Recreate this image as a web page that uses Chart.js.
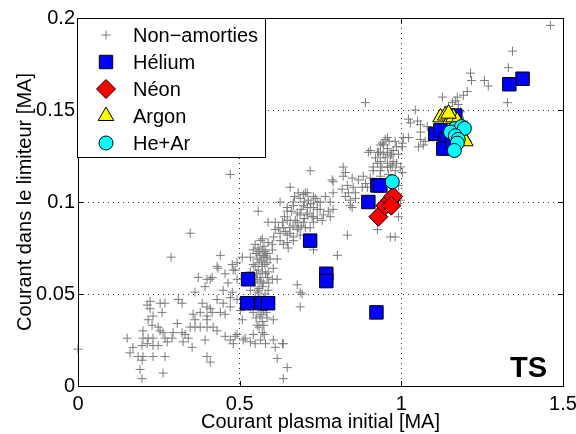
<!DOCTYPE html>
<html>
<head>
<meta charset="utf-8">
<script src="https://cdn.jsdelivr.net/npm/chart.js@4.4.1/dist/chart.umd.min.js"></script>
<style>
  html, body { margin: 0; padding: 0; background: #fff; }
  canvas { display: block; }
</style>
</head>
<body>
<canvas id="chart" width="576" height="434"></canvas>
<script>
const xTicks = [0, 0.5, 1, 1.5];
const yTicks = [0, 0.05, 0.1, 0.15, 0.2];
const seriesNames = ['Non\u2212amorties', 'Hélium', 'Néon', 'Argon', 'He+Ar'];
const xTitle = 'Courant plasma initial [MA]';
const yTitle = 'Courant dans le limiteur [MA]';
const panelLabel = 'TS';

// [courant plasma initial, courant limiteur] en MA
const nonAmorties = [
  [0.288,0.070],[0.440,0.071],[0.430,0.065],[0.455,0.061],[0.486,0.063],[0.372,0.059],[0.399,0.058],[0.415,0.059],
  [0.464,0.056],[0.492,0.058],[0.393,0.054],[0.449,0.052],[0.477,0.051],[0.362,0.051],[0.223,0.046],[0.254,0.045],
  [0.269,0.045],[0.310,0.047],[0.322,0.045],[0.384,0.045],[0.430,0.047],[0.449,0.045],[0.223,0.042],[0.260,0.040],
  [0.409,0.042],[0.455,0.039],[0.232,0.038],[0.356,0.039],[0.378,0.040],[0.415,0.040],[0.362,0.036],[0.217,0.036],
  [0.229,0.033],[0.248,0.032],[0.307,0.034],[0.399,0.036],[0.347,0.032],[0.362,0.032],[0.378,0.032],[0.399,0.032],
  [0.418,0.032],[0.430,0.030],[0.201,0.030],[0.254,0.030],[0.263,0.029],[0.294,0.029],[0.322,0.029],[0.331,0.028],
  [0.201,0.026],[0.217,0.026],[0.232,0.026],[0.269,0.026],[0.291,0.026],[0.325,0.024],[0.341,0.026],[0.393,0.025],
  [0.455,0.027],[0.471,0.025],[0.486,0.027],[0.152,0.026],[0.170,0.021],[0.198,0.022],[0.214,0.023],[0.232,0.022],
  [0.248,0.022],[0.276,0.024],[0.353,0.021],[0.161,0.018],[0.186,0.016],[0.201,0.016],[0.232,0.016],[0.269,0.016],
  [0.198,0.014],[0.399,0.016],[0.409,0.013],[0.192,0.009],[0.263,0.007],[0.198,0.004],[0.000,0.020],[0.347,0.083],
  [0.471,0.115],[0.214,0.044],
  [0.656,0.108],[0.681,0.105],[0.709,0.105],[0.728,0.103],[0.687,0.102],[0.625,0.100],[0.666,0.098],[0.697,0.098],
  [0.718,0.097],[0.740,0.100],[0.740,0.096],[0.647,0.095],[0.678,0.094],[0.709,0.094],[0.728,0.092],[0.557,0.095],
  [0.588,0.089],[0.610,0.089],[0.632,0.089],[0.656,0.090],[0.678,0.089],[0.697,0.089],[0.610,0.085],[0.625,0.083],
  [0.641,0.084],[0.656,0.083],[0.678,0.085],[0.687,0.082],[0.625,0.079],[0.647,0.078],[0.666,0.079],[0.635,0.077],
  [0.650,0.075],[0.570,0.080],[0.601,0.077],[0.579,0.073],[0.563,0.071],[0.542,0.074],[0.533,0.070],[0.554,0.069],
  [0.573,0.070],[0.585,0.067],[0.594,0.069],[0.616,0.069],[0.604,0.064],[0.548,0.065],[0.557,0.063],[0.570,0.062],
  [0.542,0.060],[0.563,0.059],[0.585,0.059],[0.601,0.058],[0.616,0.058],[0.508,0.070],[0.492,0.067],[0.477,0.066],
  [0.433,0.064],[0.480,0.063],[0.548,0.056],[0.570,0.054],[0.554,0.052],[0.678,0.055],[0.687,0.051],[0.687,0.043],
  [0.533,0.043],[0.542,0.040],[0.563,0.038],[0.471,0.048],[0.492,0.047],[0.440,0.040],[0.471,0.043],[0.502,0.041],
  [0.399,0.043],[0.399,0.038],[0.409,0.058],
  [0.573,0.041],[0.585,0.037],[0.604,0.036],[0.508,0.036],[0.554,0.033],[0.570,0.029],[0.542,0.028],[0.511,0.025],
  [0.533,0.024],[0.548,0.023],[0.492,0.028],[0.480,0.023],[0.604,0.025],[0.632,0.023],[0.610,0.021],[0.616,0.015],
  [0.647,0.010],[0.635,0.004],[0.517,0.026],[0.563,0.046],[0.548,0.048],
  [0.548,0.077],[0.557,0.075],[0.570,0.074],[0.551,0.072],[0.576,0.071],[0.560,0.067],[0.542,0.066],[0.570,0.065],
  [0.554,0.058],[0.573,0.056],[0.557,0.051],[0.579,0.050],[0.563,0.048],[0.545,0.046],[0.557,0.042],[0.551,0.037],
  [0.570,0.035],[0.560,0.032],[0.576,0.028],[0.588,0.078],[0.601,0.074],[0.582,0.070],[0.533,0.062],[0.588,0.062],
  [0.533,0.052],[0.588,0.052],
  [0.565,0.079],[0.575,0.076],[0.560,0.073],[0.585,0.072],[0.568,0.068],[0.578,0.066],[0.552,0.061],[0.580,0.061],
  [0.566,0.057],[0.590,0.056],[0.560,0.053],[0.575,0.047],[0.568,0.043],[0.582,0.040],[0.566,0.039],[0.575,0.033],
  [0.565,0.025],[0.580,0.023],
  [0.950,0.134],[0.981,0.133],[1.006,0.135],[1.003,0.130],[0.975,0.128],[0.957,0.129],[0.935,0.131],[0.904,0.128],
  [0.926,0.127],[0.944,0.126],[0.966,0.125],[0.991,0.126],[0.935,0.122],[0.957,0.121],[0.975,0.122],[0.913,0.119],
  [0.718,0.117],[0.789,0.111],[0.820,0.114],[0.848,0.113],[0.867,0.112],[0.882,0.114],[0.833,0.109],[0.851,0.108],
  [0.817,0.107],[0.836,0.105],[0.858,0.105],[0.879,0.108],[0.895,0.108],[0.827,0.103],[0.842,0.101],[0.858,0.102],
  [0.789,0.105],[0.765,0.103],[0.780,0.100],[0.749,0.100],[0.734,0.102],[0.712,0.101],[0.697,0.104],[0.666,0.100],
  [0.709,0.097],[0.728,0.097],[0.749,0.096],[0.774,0.095],[0.789,0.096],[0.647,0.097],[0.687,0.093],[0.709,0.093],
  [0.724,0.092],[0.740,0.091],[0.759,0.093],[0.780,0.092],[0.647,0.090],[0.672,0.090],[0.728,0.089],[0.755,0.090],
  [0.635,0.086],[0.681,0.086],[0.703,0.086],[0.718,0.086],[0.647,0.082],[0.666,0.081],[0.833,0.082],[0.842,0.098],
  [0.848,0.097],[0.966,0.081],[0.981,0.081],[0.991,0.092],[0.997,0.101],[0.966,0.119],[0.981,0.117],[1.003,0.116],
  [0.802,0.071],[0.728,0.074],[0.926,0.085],[0.693,0.050],[0.635,0.023],
  [0.660,0.095],[0.690,0.096],[0.700,0.091],[0.665,0.087],[0.690,0.087],[0.655,0.086],[0.700,0.100],[0.720,0.099],
  [0.670,0.103],[0.638,0.092],[0.620,0.086],[0.605,0.081],
  [1.461,0.196],[1.344,0.182],[1.331,0.173],[1.214,0.170],[1.217,0.166],[1.257,0.166],[1.269,0.163],[1.328,0.154],
  [1.127,0.157],[1.204,0.160],[1.192,0.158],[1.173,0.157],[1.158,0.154],[1.167,0.155],[1.176,0.153],[0.889,0.154],
  [1.043,0.150],[1.022,0.145],[1.050,0.144],[1.080,0.141],[1.059,0.138],[1.022,0.135],[1.074,0.133],[1.053,0.130],
  [1.192,0.144],[1.198,0.141],[1.003,0.132],[0.957,0.135],[0.941,0.132],[0.898,0.127],[0.786,0.112],[0.820,0.119],
  [0.827,0.116],[0.935,0.127],[0.703,0.105],[1.136,0.150],[1.146,0.152],[1.183,0.149],
  [0.929,0.127],[0.957,0.127],[0.926,0.121],[0.972,0.120],[0.913,0.117],[0.935,0.117],[0.957,0.119],[0.997,0.119],
  [0.935,0.114],[0.960,0.115],[1.059,0.134],[1.068,0.131],[0.991,0.109],[0.904,0.113],[0.889,0.110],[1.028,0.143],
  [1.059,0.142],
  [0.945,0.131],[0.962,0.133],[0.985,0.130],[0.950,0.124],[0.970,0.126],[0.940,0.119],[0.985,0.121],[0.920,0.124]
];

const helium = [
  [0.526,0.058],[0.523,0.045],[0.567,0.045],[0.588,0.045],[0.718,0.079],[0.768,0.061],[0.768,0.057],[0.923,0.040],
  [0.898,0.100],[0.926,0.109],[0.935,0.109],[1.375,0.167],[1.334,0.164],[1.167,0.147],[1.105,0.137],[1.121,0.139],
  [1.136,0.134],[1.130,0.129],[1.158,0.133]
];
const neon = [[0.929,0.092],[0.950,0.098],[0.966,0.101],[0.975,0.103],[0.969,0.098]];
const argon = [
  [1.121,0.146],[1.136,0.147],[1.152,0.145],[1.161,0.146],[1.173,0.144],[1.192,0.135],[1.198,0.133],[1.146,0.148]
];
const heAr = [
  [0.972,0.111],[1.167,0.140],[1.186,0.141],[1.195,0.140],[1.152,0.138],[1.167,0.136],[1.176,0.134],[1.173,0.132],
  [1.164,0.128]
];

const toPoints = arr => arr.map(([x, y]) => ({ x, y }));
const FONT = '"Liberation Sans", Arial, Helvetica, sans-serif';

const datasets = [
  { label: seriesNames[0], data: toPoints(nonAmorties), pointStyle: 'cross', pointRadius: 4.5,
    borderColor: '#7a7a7a', backgroundColor: '#7a7a7a', borderWidth: 1, order: 5, clip: false },
  { label: seriesNames[1], data: toPoints(helium), pointStyle: 'rect', pointRadius: 9.5,
    borderColor: '#000', backgroundColor: '#0000ff', borderWidth: 1, order: 4 },
  { label: seriesNames[2], data: toPoints(neon), pointStyle: 'rectRot', pointRadius: 9.5,
    borderColor: '#000', backgroundColor: '#ff0000', borderWidth: 1, order: 3 },
  { label: seriesNames[3], data: toPoints(argon), pointStyle: 'triangle', pointRadius: 9,
    borderColor: '#000', backgroundColor: '#ffff00', borderWidth: 1, order: 2 },
  { label: seriesNames[4], data: toPoints(heAr), pointStyle: 'circle', pointRadius: 7,
    borderColor: '#000', backgroundColor: '#00ffff', borderWidth: 1, order: 1 }
];

function drawMarker(ctx, ds, x, y) {
  ctx.save();
  ctx.strokeStyle = ds.borderColor;
  ctx.fillStyle = ds.backgroundColor;
  ctx.lineWidth = ds.borderWidth;
  Chart.helpers.drawPoint(ctx, { pointStyle: ds.pointStyle, radius: ds.pointRadius, borderWidth: ds.borderWidth, rotation: 0 }, x, y);
  ctx.restore();
}

const framePlugin = {
  id: 'frame',
  afterDraw(chart) {
    const { ctx, chartArea: a, scales } = chart;
    ctx.save();
    // axes box
    ctx.strokeStyle = '#000';
    ctx.lineWidth = 1;
    ctx.strokeRect(a.left + 0.5, a.top + 0.5, a.right - a.left, a.bottom - a.top);
    // inner ticks
    ctx.beginPath();
    xTicks.forEach(v => {
      const px = Math.round(scales.x.getPixelForValue(v)) + 0.5;
      ctx.moveTo(px, a.bottom); ctx.lineTo(px, a.bottom - 5);
      ctx.moveTo(px, a.top); ctx.lineTo(px, a.top + 5);
    });
    yTicks.forEach(v => {
      const py = Math.round(scales.y.getPixelForValue(v)) + 0.5;
      ctx.moveTo(a.left, py); ctx.lineTo(a.left + 5, py);
      ctx.moveTo(a.right, py); ctx.lineTo(a.right - 5, py);
    });
    ctx.stroke();

    // legend
    const lx = a.left - 1, ly = a.top, lw = 188, lh = 139;
    ctx.fillStyle = '#fff';
    ctx.fillRect(lx, ly, lw, lh);
    ctx.strokeRect(lx + 0.5, ly + 0.5, lw, lh);
    ctx.font = '20px ' + FONT;
    ctx.textBaseline = 'middle';
    ctx.textAlign = 'left';
    datasets.forEach((ds, i) => {
      const cy = ly + 17 + i * 27;
      drawMarker(ctx, ds, lx + 29, cy);
      ctx.fillStyle = '#000';
      ctx.fillText(ds.label, lx + 56, cy + 1);
    });

    // panel label
    ctx.font = 'bold 29px ' + FONT;
    ctx.textAlign = 'right';
    ctx.textBaseline = 'alphabetic';
    ctx.fillStyle = '#000';
    ctx.fillText(panelLabel, a.right - 16, a.bottom - 9);
    ctx.restore();
  }
};

const gridColor = (edges) => (c) =>
  (c.tick && edges.includes(c.tick.value)) ? 'rgba(0,0,0,0)' : 'rgba(0,0,0,0.8)';

new Chart(document.getElementById('chart'), {
  type: 'scatter',
  data: { datasets },
  options: {
    responsive: false,
    animation: false,
    events: [],
    layout: { padding: { top: 18, right: 13, left: 0, bottom: 0 } },
    plugins: { legend: { display: false }, tooltip: { enabled: false } },
    scales: {
      x: {
        type: 'linear', min: 0, max: 1.5,
        afterBuildTicks: s => { s.ticks = xTicks.map(v => ({ value: v })); },
        afterFit: s => { s.height = 48; s.paddingLeft = 0; s.paddingRight = 0; },
        border: { display: false, dash: [1, 4] },
        grid: { color: gridColor([0, 1.5]), lineWidth: 1, drawTicks: false },
        ticks: { color: '#000', padding: 6, font: { family: FONT, size: 20 }, maxRotation: 0,
                 callback: v => String(+v.toFixed(2)) },
        title: { display: true, text: xTitle, color: '#000', font: { family: FONT, size: 20 },
                 padding: { top: 0, bottom: 0 } }
      },
      y: {
        type: 'linear', min: 0, max: 0.2,
        afterBuildTicks: s => { s.ticks = yTicks.map(v => ({ value: v })); },
        afterFit: s => { s.width = 78; s.paddingTop = 0; s.paddingBottom = 0; },
        border: { display: false, dash: [1, 4] },
        grid: { color: gridColor([0, 0.2]), lineWidth: 1, drawTicks: false },
        ticks: { color: '#000', padding: 3, font: { family: FONT, size: 20 },
                 callback: v => String(+v.toFixed(2)) },
        title: { display: true, text: yTitle, color: '#000', font: { family: FONT, size: 20 },
                 padding: { top: 13, bottom: 0 } }
      }
    }
  },
  plugins: [framePlugin]
});
</script>
</body>
</html>
